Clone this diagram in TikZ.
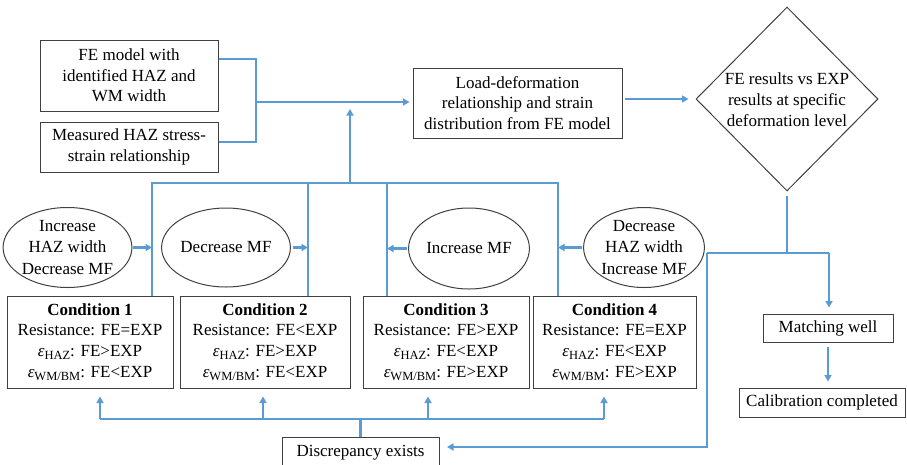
\documentclass[tikz,border=0pt]{standalone}
\usepackage{fontspec}
\setmainfont{Liberation Serif}
\usetikzlibrary{shapes.geometric,arrows.meta,calc}
\definecolor{lblue}{RGB}{91,155,213}
\definecolor{bord}{RGB}{64,64,64}
\newcommand{\epsub}[1]{\textit{ε}\raisebox{-0.45ex}{\fontsize{12.5}{12.5}\selectfont #1}}
\begin{document}
\begin{tikzpicture}[x=1pt,y=-1pt,
  box/.style={draw=bord,line width=1pt,fill=white,inner sep=0pt,align=center,font=\fontsize{17}{20.7}\selectfont},
  oval/.style={ellipse,draw=bord,line width=1pt,inner sep=0pt,align=center,font=\fontsize{17}{21.5}\selectfont},
  bl/.style={draw=lblue,line width=2.2pt},
  ar/.style={bl,-{Triangle[length=6.5pt,width=7pt]}},
  txt/.style={inner sep=0pt,align=center,font=\fontsize{17}{21}\selectfont}]
\useasboundingbox (0,0) rectangle (907,464);
\clip (0,0) rectangle (907,464);

% top boxes
\node[box,minimum width=178pt,minimum height=71pt] (fe) at (129,75.5) {FE model with\\identified HAZ and\\WM width};
\node[box,minimum width=178pt,minimum height=50pt] (meas) at (129,147) {Measured HAZ stress-\\strain relationship};
\node[box,minimum width=209pt,minimum height=70pt] (load) at (517.5,103) {Load-deformation\\relationship and strain\\distribution from FE model};
\node[diamond,draw=bord,line width=1pt,minimum width=182pt,minimum height=184pt,inner sep=0pt] (dia) at (787,99) {};
\node[txt] (diat) at (787,100) {FE results vs EXP\\results at specific\\deformation level};

% ellipses
\node[oval,minimum width=119pt,minimum height=80pt] (e1) at (67.5,247.5) {Increase\\HAZ width\\Decrease MF};
\node[oval,minimum width=118pt,minimum height=79pt] (e2) at (226,247.5) {Decrease MF};
\node[oval,minimum width=118pt,minimum height=81pt] (e3) at (469,248.5) {Increase MF};
\node[oval,minimum width=118pt,minimum height=80pt] (e4) at (644,247.5) {Decrease\\HAZ width\\Increase MF};

% condition boxes
\node[box,minimum width=166pt,minimum height=92pt] (c1) at (90,342) {\textbf{Condition 1}\\Resistance: FE=EXP\\\epsub{HAZ}: FE>EXP\\\epsub{WM/BM}: FE<EXP};
\node[box,minimum width=170pt,minimum height=92pt] (c2) at (265,342) {\textbf{Condition 2}\\Resistance: FE<EXP\\\epsub{HAZ}: FE>EXP\\\epsub{WM/BM}: FE<EXP};
\node[box,minimum width=166pt,minimum height=92pt] (c3) at (446,342) {\textbf{Condition 3}\\Resistance: FE>EXP\\\epsub{HAZ}: FE<EXP\\\epsub{WM/BM}: FE>EXP};
\node[box,minimum width=163pt,minimum height=92pt] (c4) at (614.5,342) {\textbf{Condition 4}\\Resistance: FE=EXP\\\epsub{HAZ}: FE<EXP\\\epsub{WM/BM}: FE>EXP};

% right boxes
\node[box,minimum width=130pt,minimum height=28pt] (match) at (828,328) {Matching well};
\node[box,minimum width=166pt,minimum height=29pt] (calib) at (822,402.5) {Calibration completed};
\node[box,minimum width=157pt,minimum height=31pt] (disc) at (360.5,452.5) {\raisebox{2pt}{Discrepancy exists}};

% coordinates
\coordinate (jn) at (256,102);
\coordinate (up) at (350,183);
\coordinate (upe) at (350,109);
\coordinate (b1) at (152,183);
\coordinate (b2) at (308,183);
\coordinate (b3) at (387,183);
\coordinate (b4) at (558,183);
\coordinate (dj) at (787,253);
\coordinate (dl) at (707,253);
\coordinate (dr) at (829,253);
\coordinate (da) at (447,447);
\coordinate (q1) at (100,419);
\coordinate (q2) at (263,419);
\coordinate (q3) at (428,419);
\coordinate (q4) at (604,419);

% top connectors
\draw[bl] ($(fe.north east)!0.27!(fe.south east)$) -| (jn);
\draw[bl] ($(meas.north east)!0.4!(meas.south east)$) -| (jn);
\draw[ar,shorten >=3pt] (jn) -- (jn -| load.west);
\draw[ar] (up) -- (upe);
\draw[ar,shorten <=2pt,shorten >=7pt] (load.east |- dia.west) -- (dia.west);

% upper bus
\draw[bl] (b1 |- c1.north) -- (b1) -- (b4) -- (b4 |- c4.north);
\draw[bl] (b2) -- (b2 |- c2.north);
\draw[bl] (b3) -- (b3 |- c3.north);

% ellipse arrows
\draw[ar,shorten <=1pt] (e1.east) -- (e1.east -| b1);
\draw[ar,shorten <=2pt] (e2.east) -- (e2.east -| b2);
\draw[ar,shorten <=1pt] (e3.west) -- (e3.west -| b3);
\draw[ar,shorten <=1pt] (e4.west) -- (e4.west -| b4);

% decision outputs
\draw[bl,shorten <=4pt] (dia.south) -- (dj);
\draw[bl] (dl) -- (dr);
\draw[ar,shorten >=6pt] (dr) -- (dr |- match.north);
\draw[ar] (dl) |- (da);
\draw[ar,shorten <=4pt,shorten >=6pt] (match.south) -- (match.south |- calib.north);

% lower bus
\draw[bl] (q1) -- (q4);
\draw[bl] (disc.north) -- (disc.north |- q1);
\draw[ar,shorten >=8pt] (q1) -- (q1 |- c1.south);
\draw[ar,shorten >=8pt] (q2) -- (q2 |- c2.south);
\draw[ar,shorten >=8pt] (q3) -- (q3 |- c3.south);
\draw[ar,shorten >=8pt] (q4) -- (q4 |- c4.south);
\end{tikzpicture}
\end{document}
